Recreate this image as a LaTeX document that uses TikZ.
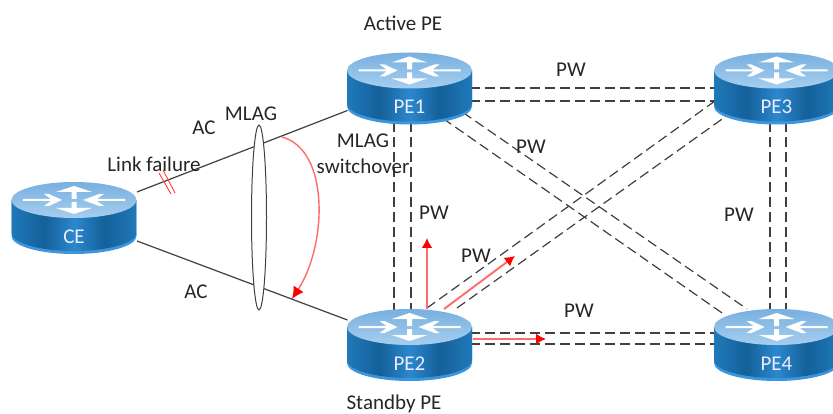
\documentclass[tikz,border=0pt]{standalone}
\usepackage{fontspec}
\setmainfont{Carlito}
\usetikzlibrary{arrows.meta,calc,shapes.geometric}
\pgfdeclarelayer{bg}
\pgfsetlayers{bg,main}
\definecolor{lip}{HTML}{3D96DC}
\definecolor{sa}{HTML}{2079B8}
\definecolor{sb}{HTML}{14609A}
\definecolor{sc}{HTML}{2B88CC}
\definecolor{topa}{HTML}{78B0E0}
\definecolor{topb}{HTML}{A6CEEE}
\definecolor{wire}{HTML}{404040}
\definecolor{hot}{HTML}{FF0000}
\definecolor{hotline}{HTML}{FF6A6A}
\pgfdeclarehorizontalshading{sideshade}{100bp}{color(0bp)=(sa); color(25bp)=(sa); color(38bp)=(sb); color(50bp)=(sc); color(62bp)=(sb); color(75bp)=(sa); color(100bp)=(sa)}
\tikzset{
  lbl/.style={font=\fontsize{21}{26}\selectfont,text=black!85,inner sep=0pt,align=center},
  rlabel/.style={font=\fontsize{21}{24}\selectfont,text=white!92!blue,inner sep=0pt},
  routerbox/.style={minimum width=125,minimum height=71,inner sep=0pt},
  pw/.style={draw=wire,line width=1.2,dash pattern=on 10 off 5},
  ac/.style={draw=wire,line width=1.2},
  redarrow/.style={draw=hotline,line width=1.9,-{Latex[length=10,width=11,color=hot]}},
  cut/.style={draw=hot!75!white,line width=0.9},
  glyph/.style={fill=white,draw=none}
}
\newcommand{\router}[4]{%
  \begin{scope}[shift={(#2,#3)}]
    \fill[lip] (-62.5,-18) -- (-62.5,18) arc[start angle=180,end angle=0,x radius=62.5,y radius=18] -- (62.5,-18) -- cycle;
    \shade[shading=sideshade] (-62.5,-18) -- (-62.5,15) arc[start angle=180,end angle=0,x radius=62.5,y radius=18] -- (62.5,-18) -- cycle;
    \shade[bottom color=topb,top color=topa,shading angle=0] (0,-18) ellipse[x radius=62.5,y radius=18];
    \begin{scope}[shift={(0,-18)}]
      \fill[glyph] (-51,-1) -- (-23,-1) -- (-30,-6) -- (-25,-6) -- (-12,0) -- (-25,6) -- (-30,6) -- (-23,1) -- (-51,1) -- cycle;
      \fill[glyph] (51,-1) -- (23,-1) -- (30,-6) -- (25,-6) -- (9,0) -- (25,6) -- (30,6) -- (23,1) -- (51,1) -- cycle;
      \fill[glyph] (-2.5,-1) -- (-2.5,-8) -- (-18,-8) -- (0,-14) -- (18,-8) -- (2.5,-8) -- (2.5,-1) -- cycle;
      \fill[glyph] (-2.5,2) -- (-2.5,8) -- (-18,8) -- (0,14) -- (18,8) -- (2.5,8) -- (2.5,2) -- cycle;
    \end{scope}
  \end{scope}
  \node[routerbox] (#1) at (#2,#3) {};
  \node[rlabel] (#1-name) at (#2,#3+18.5) {#4};
}
\begin{document}
\begin{tikzpicture}[x=1pt,y=-1pt]
\path[use as bounding box,clip] (0,0) rectangle (833,414);

\router{ce}{74}{218}{CE}
\router{pea}{409.5}{88.5}{PE1}
\router{peb}{409.5}{345}{PE2}
\router{pec}{776.5}{88.5}{PE3}
\router{ped}{776.5}{345}{PE4}

\begin{pgfonlayer}{bg}
  \fill[white] (0,0) rectangle (833,414);
  \draw[pw] ($(pea)+(60,-0.5)$) -- ($(pec)+(-60,-0.5)$);
  \draw[pw] ($(pea)+(60,12.5)$) -- ($(pec)+(-60,12.5)$);
  \draw[pw] ($(peb)+(60,-12)$) -- ($(ped)+(-60,-12)$);
  \draw[pw] ($(peb)+(60,-1)$) -- ($(ped)+(-60,-1)$);
  \draw[pw] ($(pea)+(-15.5,34)$) -- ($(peb)+(-15.5,-34)$);
  \draw[pw] ($(pea)+(1.5,34)$) -- ($(peb)+(1.5,-34)$);
  \draw[pw] ($(pec)+(-6.5,34)$) -- ($(ped)+(-6.5,-34)$);
  \draw[pw] ($(pec)+(9.5,34)$) -- ($(ped)+(9.5,-34)$);
  \draw[pw] ($(pea)+(33.5,30)$) -- ($(ped)+(-51.5,-30)$);
  \draw[pw] ($(pea)+(53.5,24)$) -- ($(ped)+(-29.5,-36)$);
  \draw[pw] ($(peb)+(17.5,-37)$) -- ($(pec)+(-61.5,12.5)$);
  \draw[pw] ($(peb)+(47.5,-37)$) -- ($(pec)+(-51.5,28.5)$);
  \draw[ac] ($(ce)+(63,-26)$) -- ($(pea)+(-62,22)$);
  \draw[ac] ($(ce)+(63,23)$) -- ($(peb)+(-62,-25)$);
\end{pgfonlayer}

\node[draw=wire,fill=white,line width=1,shape=ellipse,minimum width=15,minimum height=185,inner sep=0pt] (lag) at (259,217.5) {};

\coordinate (swa) at (282,137);
\coordinate (swb) at (292,299);
\draw[draw=hotline,line width=1.4,-{Latex[length=12,width=12,color=hot]}] (swa) .. controls (330,150) and (327,245) .. (swb);

\draw[redarrow] ($(peb)+(17.5,-36)$) -- ($(peb)+(17.5,-107)$);
\draw[redarrow] ($(peb)+(34.5,-36)$) -- ($(peb)+(105.5,-89)$);
\draw[redarrow] ($(peb)+(63,-6)$) -- ($(peb)+(136.5,-6)$);

\coordinate (cuta1) at (159,173);
\coordinate (cuta2) at (171,194);
\coordinate (cutb1) at (163,170);
\coordinate (cutb2) at (175,193);
\draw[cut] (cuta1) -- (cuta2);
\draw[cut] (cutb1) -- (cutb2);

\node[lbl] (tactive) at (403,23) {Active PE};
\node[lbl] (tstandby) at (394,404) {Standby PE};
\node[lbl] (tw1) at (571,70) {PW};
\node[lbl] (tw2) at (531,147) {PW};
\node[lbl] (tw3) at (434,213) {PW};
\node[lbl] (tw4) at (476,256) {PW};
\node[lbl] (tw5) at (579,311) {PW};
\node[lbl] (tw6) at (739,215) {PW};
\node[lbl] (tac1) at (204,128) {AC};
\node[lbl] (tac2) at (196,292) {AC};
\node[lbl] (tlag) at (251,114) {MLAG};
\node[lbl] (tfail) at (154,164) {Link failure};
\node[lbl] (tswitch) at (363,154) {MLAG\\switchover};
\end{tikzpicture}
\end{document}
